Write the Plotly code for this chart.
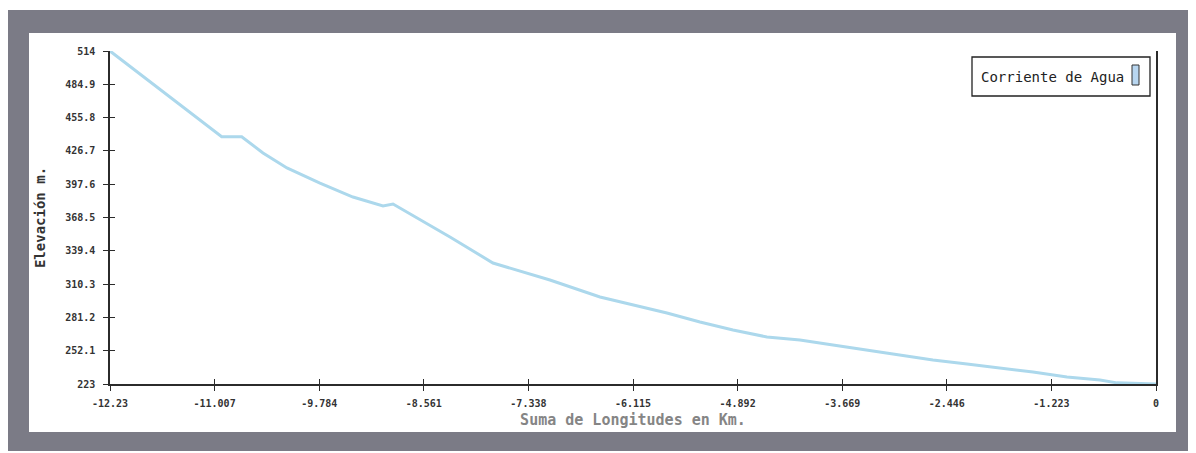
import plotly.graph_objects as go

# Data
distancia_km = [-12.23, -10.924, -10.69, -10.441, -10.161, -9.775, -9.389, -9.038, -8.921,
                -8.641, -8.255, -7.752, -7.471, -7.086, -6.501, -6.115, -5.718, -5.332,
                -4.946, -4.549, -4.163, -3.777, -3.379, -2.993, -2.608, -2.21, -1.824,
                -1.438, -1.041, -0.655, -0.456, 0.0]
elevacion_m = [514, 439.1, 439.1, 424.9, 411.8, 398.6, 386.4, 378.5, 380.3,
               368.1, 351.5, 328.7, 322.6, 313.9, 299.0, 292.0, 285.0, 277.2,
               270.2, 264.1, 261.4, 257.1, 252.7, 248.3, 244.0, 240.5, 237.0,
               233.5, 229.1, 226.5, 224.0, 223.0]

x_ticks = [-12.23, -11.007, -9.784, -8.561, -7.338, -6.115, -4.892, -3.669, -2.446, -1.223, 0]
x_tick_text = ["-12.23", "-11.007", "-9.784", "-8.561", "-7.338", "-6.115", "-4.892",
               "-3.669", "-2.446", "-1.223", "0"]
y_ticks = [223, 252.1, 281.2, 310.3, 339.4, 368.5, 397.6, 426.7, 455.8, 484.9, 514]
y_tick_text = ["223", "252.1", "281.2", "310.3", "339.4", "368.5", "397.6", "426.7",
               "455.8", "484.9", "514"]
serie_nombre = "Corriente de Agua"

# page body has an 8px margin, so the figure is placed at (8, 8)
OFF = 8
W, H = 1196 - OFF, 453 - OFF
L, T = 110 - OFF, 51 - OFF
R = W - (1156 - OFF)
B = H - (384 - OFF)
pw, ph = W - L - R, H - T - B

def px2x(px):
    return (px - OFF - L) / pw

def py2y(py):
    return (H - B - (py - OFF)) / ph

MONO = "DejaVu Sans Mono"
LINE = "#2b2b2b"

fig = go.Figure()
fig.add_trace(go.Scatter(
    x=distancia_km, y=elevacion_m, mode="lines", name=serie_nombre,
    line=dict(color="rgb(172,216,236)", width=3), showlegend=False,
    xaxis="x", yaxis="y",
))
# invisible trace for overlay axes (inside ticks so tick marks cross the axis)
fig.add_trace(go.Scatter(x=[distancia_km[0]], y=[elevacion_m[0]], mode="lines",
                         showlegend=False, hoverinfo="skip", xaxis="x2", yaxis="y2",
                         line=dict(color="rgba(0,0,0,0)")))

axis_common = dict(showgrid=False, zeroline=False, linecolor=LINE, linewidth=1.5,
                   tickcolor=LINE, tickwidth=1.3)

fig.update_layout(
    width=W, height=H,
    margin=dict(l=L, r=R, t=T, b=B, pad=0),
    paper_bgcolor="white", plot_bgcolor="white",
    xaxis=dict(range=[-12.23, 0], tickmode="array", tickvals=x_ticks, ticktext=x_tick_text,
               ticks="outside", ticklen=5, showline=True, mirror=False,
               tickfont=dict(family=MONO, size=10, color="#333", weight="bold"),
               ticklabelstandoff=4,
               title=dict(text="<b>Suma de Longitudes en Km.</b>", standoff=7,
                          font=dict(family=MONO, size=15, color="#858585")),
               **axis_common),
    yaxis=dict(range=[223, 514], tickmode="array", tickvals=y_ticks, ticktext=y_tick_text,
               ticks="outside", ticklen=5, showline=True, mirror=True,
               tickfont=dict(family=MONO, size=10, color="#333", weight="bold"),
               ticklabelstandoff=6,
               title=dict(text="<b>Elevación m.</b>", standoff=16,
                          font=dict(family=MONO, size=14, color="#333")),
               **axis_common),
    xaxis2=dict(overlaying="x", matches="x", range=[-12.23, 0], tickmode="array",
                tickvals=x_ticks, ticks="inside", ticklen=5, showticklabels=False,
                showline=False, side="bottom", showgrid=False, zeroline=False,
                tickcolor=LINE, tickwidth=1.3),
    yaxis2=dict(overlaying="y", matches="y", range=[223, 514], tickmode="array",
                tickvals=y_ticks, ticks="inside", ticklen=5, showticklabels=False,
                showline=False, side="left", showgrid=False, zeroline=False,
                tickcolor=LINE, tickwidth=1.3),
    showlegend=False,
)

shapes = [
    # scanned gray frame
    dict(type="rect", xref="paper", yref="paper", x0=px2x(8), x1=px2x(1195),
         y0=py2y(451), y1=py2y(10), fillcolor="#7b7b86", line=dict(width=0), layer="below"),
    dict(type="rect", xref="paper", yref="paper", x0=px2x(29), x1=px2x(1176),
         y0=py2y(432), y1=py2y(33), fillcolor="white", line=dict(width=0), layer="below"),
    # legend box
    dict(type="rect", xref="paper", yref="paper", x0=px2x(972), x1=px2x(1150),
         y0=py2y(96), y1=py2y(57), fillcolor="white", line=dict(color="#222", width=1.3)),
    # legend symbol
    dict(type="rect", xref="paper", yref="paper", x0=px2x(1132), x1=px2x(1139),
         y0=py2y(85), y1=py2y(65), fillcolor="rgb(184,214,240)", line=dict(color="#333", width=1)),
]
fig.update_layout(shapes=shapes)
fig.add_annotation(xref="paper", yref="paper", x=px2x(979), y=py2y(76.5), xanchor="left",
                   yanchor="middle", text=serie_nombre, showarrow=False,
                   font=dict(family=MONO, size=14, color="#222"))

fig.write_html("out.html")
